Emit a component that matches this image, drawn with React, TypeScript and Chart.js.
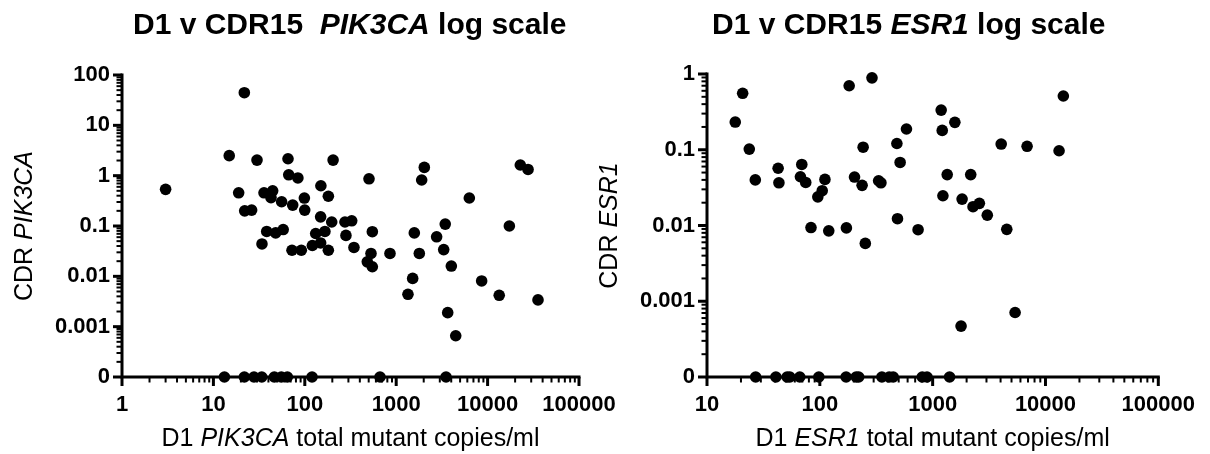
import React, { useEffect, useRef } from 'react';
import { Chart, registerables } from 'chart.js';

Chart.register(...registerables);

// ---------- DATA ----------
// PIK3CA panel: D1 total mutant copies/ml (x) vs CDR (y)
const PIK_X = [
  21.8, 3.0, 14.9, 30, 65.5, 204, 66.7, 84, 150, 181,
  18.9, 35.8, 44.5, 42.7, 55.8, 73.7, 98.9, 99.8, 22, 26.2,
  149, 197, 275, 38.3, 48, 58, 131.6, 166, 149, 121,
  34, 72.4, 91.6, 181, 282, 326, 345, 504, 548, 530,
  483, 548, 855, 2030, 1900, 1578, 1790, 1514, 1345, 6310,
  3440, 2770, 3310, 4010, 3660, 4480, 8610, 13400, 17300, 22800,
  27700, 35600,
  13.2, 21.8, 27.8, 33.8, 46.4, 55.3, 64.4, 120, 665, 3510,
];
const PIK_Y = [
  44.5, 0.535, 2.5, 2.04, 2.17, 2.04, 1.04, 0.9, 0.63, 0.39,
  0.457, 0.457, 0.5, 0.364, 0.303, 0.26, 0.359, 0.207, 0.2, 0.207,
  0.152, 0.12, 0.12, 0.078, 0.073, 0.085, 0.071, 0.078, 0.046, 0.041,
  0.044, 0.033, 0.033, 0.033, 0.065, 0.127, 0.0375, 0.867, 0.077, 0.0285,
  0.0194, 0.0155, 0.0285, 1.46, 0.82, 0.073, 0.0285, 0.0091, 0.0044, 0.36,
  0.109, 0.061, 0.034, 0.016, 0.0019, 0.00066, 0.0081, 0.0042, 0.1, 1.63,
  1.33, 0.0034,
  0, 0, 0, 0, 0, 0, 0, 0, 0, 0,
];

// ESR1 panel
const ESR_X = [
  17.8, 20.7, 23.7, 26.8, 42.7, 43.4, 69.2, 67.3, 75, 111,
  105, 96, 83.5, 120, 172, 182, 290, 242, 203, 237,
  253, 332, 348, 482, 515, 586, 488, 743, 1190, 1216,
  1574, 1346, 2175, 1233, 1824, 2280, 2595, 3050, 4540, 4050,
  6870, 13200, 14400, 1786, 5380,
  27, 40.8, 51.3, 54.2, 66.4, 98, 171, 210, 221, 355,
  412, 447, 809, 891, 1413,
];
const ESR_Y = [
  0.232, 0.556, 0.102, 0.04, 0.057, 0.0366, 0.064, 0.044, 0.037, 0.0406,
  0.0288, 0.0239, 0.0094, 0.0085, 0.0093, 0.7, 0.89, 0.108, 0.0436, 0.0339,
  0.0058, 0.039, 0.0366, 0.121, 0.068, 0.188, 0.0123, 0.0088, 0.334, 0.18,
  0.23, 0.047, 0.047, 0.0247, 0.0223, 0.0177, 0.0196, 0.0137, 0.0089, 0.119,
  0.111, 0.097, 0.512, 0.00047, 0.00071,
  0, 0, 0, 0, 0, 0, 0, 0, 0, 0,
  0, 0, 0, 0, 0,
];

// Tick labels
const PIK_X_TICKS = [1, 10, 100, 1000, 10000, 100000];
const PIK_Y_TICKS = [0, 0.001, 0.01, 0.1, 1, 10, 100];
const ESR_X_TICKS = [10, 100, 1000, 10000, 100000];
const ESR_Y_TICKS = [0, 0.001, 0.01, 0.1, 1];

// "0" is shown one decade below the lowest labelled decade
const ZERO_FLOOR = 0.0001;

const FONT = '"Liberation Sans", Arial, Helvetica, sans-serif';
const H = 454;

type Seg = { t: string; i?: boolean };

function font(size: number, bold: boolean, italic: boolean) {
  return `${italic ? 'italic ' : ''}${bold ? 'bold ' : ''}${size}px ${FONT}`;
}

function drawRich(
  ctx: CanvasRenderingContext2D,
  segs: Seg[],
  x: number,
  y: number,
  size: number,
  bold: boolean,
  align: 'left' | 'center',
  rotate: boolean
) {
  ctx.save();
  ctx.translate(x, y);
  if (rotate) ctx.rotate(-Math.PI / 2);
  ctx.fillStyle = '#000';
  ctx.textBaseline = 'alphabetic';
  ctx.textAlign = 'left';
  let total = 0;
  const widths = segs.map((s) => {
    ctx.font = font(size, bold, !!s.i);
    const w = ctx.measureText(s.t).width;
    total += w;
    return w;
  });
  let cx = align === 'center' ? -total / 2 : 0;
  segs.forEach((s, k) => {
    ctx.font = font(size, bold, !!s.i);
    ctx.fillText(s.t, cx, 0);
    cx += widths[k];
  });
  ctx.restore();
}

type PanelSpec = {
  canvasLeft: number;
  width: number;
  area: { left: number; right: number; top: number; bottom: number };
  xs: number[];
  ys: number[];
  xTicks: number[];
  yTicks: number[];
  title: Seg[];
  titlePos: [number, number];
  xTitle: Seg[];
  yTitle: Seg[];
  yTitleX: number;
};

function decadeMarks(min: number, max: number) {
  const majors: number[] = [];
  const minors: number[] = [];
  const lo = Math.round(Math.log10(min));
  const hi = Math.round(Math.log10(max));
  for (let d = lo; d <= hi; d++) {
    majors.push(Math.pow(10, d));
    if (d < hi) for (let k = 2; k <= 9; k++) minors.push(k * Math.pow(10, d));
  }
  return { majors, minors };
}

function makeConfig(p: PanelSpec): any {
  const xMin = p.xTicks[0];
  const xMax = p.xTicks[p.xTicks.length - 1];
  const yMin = ZERO_FLOOR;
  const yMax = p.yTicks[p.yTicks.length - 1];
  const off = p.canvasLeft;
  const areaLeft = p.area.left - off;
  const areaRight = p.area.right - off;
  const fmt = (v: number) => (v <= ZERO_FLOOR * 1.0001 ? '0' : String(v));

  const axesPlugin = {
    id: 'prismAxes',
    beforeDatasetsDraw(chart: any) {
      const { ctx, chartArea: a, scales } = chart;
      const sx = scales.x;
      const sy = scales.y;
      ctx.save();
      ctx.strokeStyle = '#000';
      ctx.lineCap = 'butt';
      // x ticks
      const xm = decadeMarks(xMin, xMax);
      ctx.lineWidth = 2;
      xm.minors.forEach((v) => {
        const px = sx.getPixelForValue(v);
        ctx.beginPath();
        ctx.moveTo(px, a.bottom);
        ctx.lineTo(px, a.bottom + 5.5);
        ctx.stroke();
      });
      ctx.lineWidth = 3;
      xm.majors.forEach((v) => {
        const px = sx.getPixelForValue(v);
        ctx.beginPath();
        ctx.moveTo(px, a.bottom);
        ctx.lineTo(px, a.bottom + 9);
        ctx.stroke();
      });
      // y ticks
      const ym = decadeMarks(yMin, yMax);
      ctx.lineWidth = 2;
      ym.minors.forEach((v) => {
        const py = sy.getPixelForValue(v);
        ctx.beginPath();
        ctx.moveTo(a.left, py);
        ctx.lineTo(a.left - 5.5, py);
        ctx.stroke();
      });
      ctx.lineWidth = 3;
      ym.majors.forEach((v) => {
        const py = sy.getPixelForValue(v);
        ctx.beginPath();
        ctx.moveTo(a.left, py);
        ctx.lineTo(a.left - 9, py);
        ctx.stroke();
      });
      // axis lines
      ctx.lineWidth = 3;
      ctx.lineCap = 'square';
      ctx.beginPath();
      ctx.moveTo(a.left, a.top);
      ctx.lineTo(a.left, a.bottom);
      ctx.lineTo(a.right, a.bottom);
      ctx.stroke();
      ctx.restore();
    },
    afterDraw(chart: any) {
      const { ctx, chartArea: a } = chart;
      drawRich(ctx, p.title, p.titlePos[0] - off, p.titlePos[1], 30, true, 'left', false);
      drawRich(ctx, p.xTitle, (a.left + a.right) / 2, 446, 25, false, 'center', false);
      drawRich(ctx, p.yTitle, p.yTitleX - off, (a.top + a.bottom) / 2, 25, false, 'center', true);
    },
  };

  const points = p.xs.map((x, i) => ({ x, y: p.ys[i] > 0 ? p.ys[i] : ZERO_FLOOR }));

  return {
    type: 'scatter',
    data: {
      datasets: [
        {
          data: points,
          backgroundColor: '#000',
          borderColor: '#000',
          borderWidth: 0,
          pointRadius: 5.8,
          pointHoverRadius: 5.8,
          clip: false,
        },
      ],
    },
    options: {
      animation: false,
      responsive: false,
      maintainAspectRatio: false,
      events: [],
      layout: {
        padding: { left: 0, top: p.area.top, right: p.width - areaRight, bottom: 0 },
      },
      plugins: { legend: { display: false }, tooltip: { enabled: false }, title: { display: false } },
      scales: {
        x: {
          type: 'logarithmic',
          min: xMin,
          max: xMax,
          afterBuildTicks: (s: any) => {
            s.ticks = p.xTicks.map((v) => ({ value: v }));
          },
          afterFit: (s: any) => {
            s.height = H - p.area.bottom;
          },
          grid: { display: false, drawTicks: false },
          border: { display: false },
          ticks: {
            autoSkip: false,
            maxRotation: 0,
            minRotation: 0,
            padding: 15,
            color: '#000',
            font: { family: FONT, size: 22, weight: 'bold' },
            callback: (v: any) => fmt(Number(v)),
          },
        },
        y: {
          type: 'logarithmic',
          min: yMin,
          max: yMax,
          afterBuildTicks: (s: any) => {
            s.ticks = p.yTicks.map((v) => ({ value: v > 0 ? v : ZERO_FLOOR }));
          },
          afterFit: (s: any) => {
            s.width = areaLeft;
          },
          grid: { display: false, drawTicks: false },
          border: { display: false },
          ticks: {
            autoSkip: false,
            padding: 12,
            color: '#000',
            font: { family: FONT, size: 22, weight: 'bold' },
            callback: (v: any) => fmt(Number(v)),
          },
        },
      },
    },
    plugins: [axesPlugin],
  };
}

const PANELS: PanelSpec[] = [
  {
    canvasLeft: 0,
    width: 640,
    area: { left: 122, right: 579, top: 75, bottom: 377 },
    xs: PIK_X,
    ys: PIK_Y,
    xTicks: PIK_X_TICKS,
    yTicks: PIK_Y_TICKS,
    title: [{ t: 'D1 v CDR15  ' }, { t: 'PIK3CA', i: true }, { t: ' log scale' }],
    titlePos: [133, 34],
    xTitle: [{ t: 'D1 ' }, { t: 'PIK3CA', i: true }, { t: ' total mutant copies/ml' }],
    yTitle: [{ t: 'CDR ' }, { t: 'PIK3CA', i: true }],
    yTitleX: 32,
  },
  {
    canvasLeft: 585,
    width: 625,
    area: { left: 707, right: 1161, top: 74, bottom: 377 },
    xs: ESR_X,
    ys: ESR_Y,
    xTicks: ESR_X_TICKS,
    yTicks: ESR_Y_TICKS,
    title: [{ t: 'D1 v CDR15 ' }, { t: 'ESR1', i: true }, { t: ' log scale' }],
    titlePos: [712, 34],
    xTitle: [{ t: 'D1 ' }, { t: 'ESR1', i: true }, { t: ' total mutant copies/ml' }],
    yTitle: [{ t: 'CDR ' }, { t: 'ESR1', i: true }],
    yTitleX: 617,
  },
];

function Panel({ spec }: { spec: PanelSpec }) {
  const ref = useRef<HTMLCanvasElement | null>(null);
  useEffect(() => {
    if (!ref.current) return;
    const chart = new Chart(ref.current, makeConfig(spec));
    return () => chart.destroy();
  }, [spec]);
  return (
    <canvas
      ref={ref}
      width={spec.width}
      height={H}
      style={{ position: 'absolute', left: spec.canvasLeft, top: 0, width: spec.width, height: H }}
    />
  );
}

export default function App() {
  return (
    <div style={{ position: 'absolute', left: 0, top: 0, width: 1210, height: H, background: '#fff' }}>
      {PANELS.map((s, i) => (
        <Panel key={i} spec={s} />
      ))}
    </div>
  );
}
